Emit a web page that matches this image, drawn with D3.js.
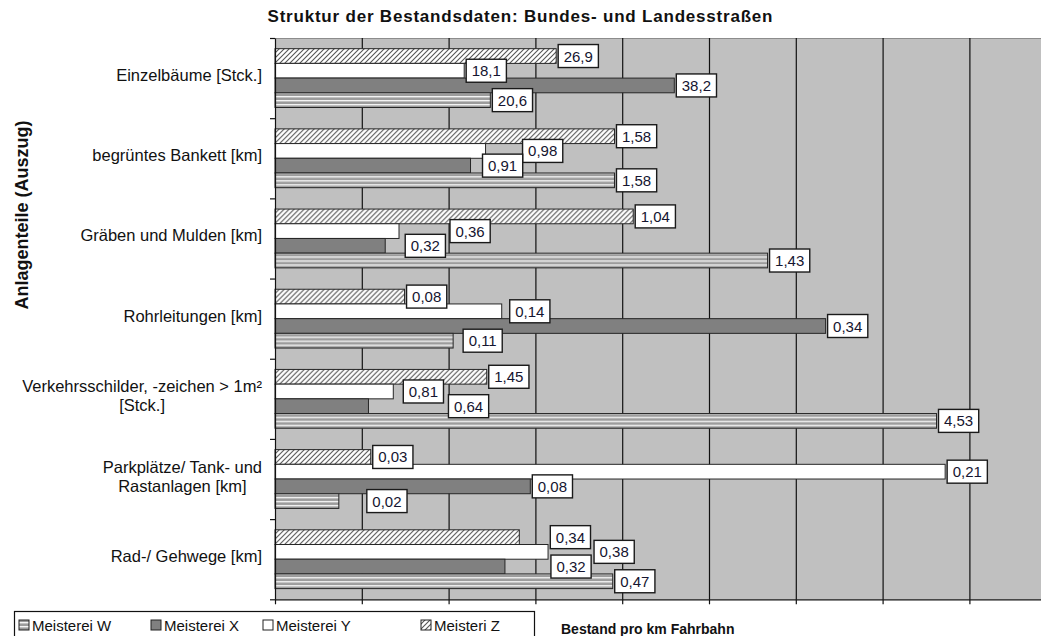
<!DOCTYPE html>
<html>
<head>
<meta charset="utf-8">
<script src="https://cdn.jsdelivr.net/npm/d3@7"></script>
<style>
  html, body { margin: 0; padding: 0; background: #fff; }
  svg { display: block; font-family: "Liberation Sans", Arial, sans-serif; }
</style>
</head>
<body>
<svg id="chart" width="1041" height="636"></svg>
<script>
// Asset categories (each entry holds the lines of the label)
const categoryLines = [
  ["Einzelbäume [Stck.]"],
  ["begrüntes Bankett [km]"],
  ["Gräben und Mulden [km]"],
  ["Rohrleitungen [km]"],
  ["Verkehrsschilder, -zeichen > 1m²", "[Stck.]"],
  ["Parkplätze/ Tank- und", "Rastanlagen [km]"],
  ["Rad-/ Gehwege [km]"]
];

// Stock per km of carriageway, one array per maintenance depot
const meistereiW = [20.6, 1.58, 1.43, 0.11, 4.53, 0.02, 0.47];
const meistereiX = [38.2, 0.91, 0.32, 0.34, 0.64, 0.08, 0.32];
const meistereiY = [18.1, 0.98, 0.36, 0.14, 0.81, 0.21, 0.38];
const meistereiZ = [26.9, 1.58, 1.04, 0.08, 1.45, 0.03, 0.34];

const seriesNames = ["Meisterei W", "Meisterei X", "Meisterei Y", "Meisteri Z"];
const labelDecimals = [1, 2, 2, 2, 2, 2, 2];

// Manual label offsets (px, beyond the default gap), order Z, Y, X, W
const labelShift = [
  [0, 0, 0, 0],
  [0, 35, 10, 0],
  [0, 49, 18, 0],
  [0, 6, 0, 8],
  [0, 8, 78, 0],
  [0, 0, 0, 26],
  [29, 44, 44, 0]
];

const svg = d3.select("#chart");
const defs = svg.append("defs");

// Fill patterns
const hatch = defs.append("pattern").attr("id", "hatchZ")
  .attr("patternUnits", "userSpaceOnUse").attr("width", 5).attr("height", 5);
hatch.append("rect").attr("width", 5).attr("height", 5).attr("fill", "#fff");
hatch.append("path").attr("d", "M-1,1 l2,-2 M0,5 l5,-5 M4,6 l2,-2")
  .attr("stroke", "#555").attr("stroke-width", 1.1);

const stripes = defs.append("pattern").attr("id", "stripesW")
  .attr("patternUnits", "userSpaceOnUse").attr("width", 8).attr("height", 4);
stripes.append("rect").attr("width", 8).attr("height", 4).attr("fill", "#9c9c9c");
stripes.append("rect").attr("y", 2).attr("width", 8).attr("height", 1.4).attr("fill", "#f4f4f4");

const seriesStyle = {
  "Meisterei W": { fill: "url(#stripesW)", values: meistereiW },
  "Meisterei X": { fill: "#808080", values: meistereiX },
  "Meisterei Y": { fill: "#ffffff", values: meistereiY },
  "Meisteri Z":  { fill: "url(#hatchZ)", values: meistereiZ }
};
// Top-to-bottom order of the bars inside one category
const barOrder = ["Meisteri Z", "Meisterei Y", "Meisterei X", "Meisterei W"];

const plot = { left: 275, top: 38, bottom: 599.3 };
const unitWidth = 1085;

// Bars show each depot's share of the category total
const catIndex = d3.range(categoryLines.length);
const totals = catIndex.map(i => d3.sum(seriesNames, s => seriesStyle[s].values[i]));

const x = d3.scaleLinear().domain([0, 0.8]).range([plot.left, plot.left + 0.8 * unitWidth]);
const y = d3.scaleBand().domain(catIndex).range([plot.top, plot.bottom]).paddingInner(0).paddingOuter(0);
const ySub = d3.scaleBand().domain(barOrder).range([0, y.bandwidth()]).paddingInner(0).paddingOuter(0.727);

const de = d3.formatLocale({ decimal: ",", thousands: ".", grouping: [3], currency: ["", " €"] });

// Plot background
svg.append("rect").attr("x", plot.left).attr("y", plot.top)
  .attr("width", 1041 - plot.left).attr("height", plot.bottom - plot.top)
  .attr("fill", "#c0c0c0");
svg.append("line").attr("x1", plot.left).attr("x2", 1041)
  .attr("y1", plot.top + 0.5).attr("y2", plot.top + 0.5)
  .attr("stroke", "#8c8c8c").attr("stroke-width", 1);

// Vertical gridlines
const gridTicks = d3.range(1, 10).map(i => +(i * 0.08).toFixed(2));
svg.append("g")
  .attr("transform", `translate(0,${plot.bottom})`)
  .call(d3.axisBottom(x).tickValues(gridTicks).tickSize(-(plot.bottom - plot.top)).tickFormat(""))
  .call(g => g.select(".domain").remove())
  .call(g => g.selectAll(".tick line").attr("stroke", "#111").attr("stroke-width", 1.2));

// Bars
const groups = svg.append("g").selectAll("g").data(catIndex).join("g")
  .attr("transform", i => `translate(0,${y(i)})`);

groups.selectAll("rect").data(i => barOrder.map(s => ({ s, i, v: seriesStyle[s].values[i], share: seriesStyle[s].values[i] / totals[i] })))
  .join("rect")
  .attr("x", x(0))
  .attr("y", d => ySub(d.s))
  .attr("width", d => x(d.share) - x(0))
  .attr("height", ySub.bandwidth())
  .attr("fill", d => seriesStyle[d.s].fill)
  .attr("stroke", "#262626").attr("stroke-width", 1);

// Bottom axis with outward ticks
svg.append("g")
  .attr("transform", `translate(0,${plot.bottom})`)
  .call(d3.axisBottom(x).tickValues([0].concat(gridTicks)).tickSize(5).tickSizeOuter(0).tickFormat(""))
  .call(g => g.select(".domain").attr("stroke", "#111").attr("stroke-width", 1.2))
  .call(g => g.selectAll(".tick line").attr("stroke", "#111").attr("stroke-width", 1.2));

// Left axis with ticks at category boundaries
const yEdge = d3.scaleLinear().domain([0, categoryLines.length]).range([plot.top, plot.bottom]);
svg.append("g")
  .attr("transform", `translate(${plot.left},0)`)
  .call(d3.axisLeft(yEdge).tickValues(d3.range(0, categoryLines.length + 1)).tickSize(5).tickSizeOuter(0).tickFormat(""))
  .call(g => g.select(".domain").attr("stroke", "#111").attr("stroke-width", 1.2))
  .call(g => g.selectAll(".tick line").attr("stroke", "#111").attr("stroke-width", 1.2));

// Value labels in boxes
const labelLayer = svg.append("g");
catIndex.forEach(i => {
  barOrder.forEach((s, k) => {
    const v = seriesStyle[s].values[i];
    const end = x(v / totals[i]);
    const cy = y(i) + ySub(s) + ySub.bandwidth() / 2;
    const lg = labelLayer.append("g");
    const txt = lg.append("text")
      .attr("font-size", 15)
      .attr("fill", "#151530")
      .attr("dominant-baseline", "central")
      .attr("y", cy)
      .text(de.format(`.${labelDecimals[i]}f`)(v));
    const w = txt.node().getComputedTextLength();
    const bx = end + 2 + labelShift[i][k];
    const bw = w + 11, bh = 23;
    lg.insert("rect", "text")
      .attr("x", bx).attr("y", cy - bh / 2)
      .attr("width", bw).attr("height", bh)
      .attr("fill", "#fff").attr("stroke", "#1a1a1a").attr("stroke-width", 1.4);
    txt.attr("x", bx + 5.5);
  });
});

// Category labels: block right-aligned, lines centred inside it
const catLabel = svg.append("g");
catIndex.forEach(i => {
  const lines = categoryLines[i];
  const cy = y(i) + y.bandwidth() / 2;
  const lh = 19;
  const g = catLabel.append("g");
  const texts = lines.map((t, j) => g.append("text")
    .attr("font-size", 16.5).attr("fill", "#111")
    .attr("dominant-baseline", "central")
    .attr("y", cy + (j - (lines.length - 1) / 2) * lh - 3)
    .text(t));
  const maxW = d3.max(texts, t => t.node().getComputedTextLength());
  const right = 262;
  texts.forEach(t => t.attr("x", right - maxW / 2).attr("text-anchor", "middle"));
});

// Titles
svg.append("text").attr("x", 520).attr("y", 22).attr("text-anchor", "middle")
  .attr("font-size", 17).attr("font-weight", "bold").attr("fill", "#111")
  .attr("textLength", 505).attr("lengthAdjust", "spacing")
  .text("Struktur der Bestandsdaten: Bundes- und Landesstraßen");

svg.append("text").attr("transform", "translate(28,215) rotate(-90)")
  .attr("text-anchor", "middle")
  .attr("font-size", 18).attr("font-weight", "bold").attr("fill", "#111")
  .text("Anlagenteile (Auszug)");

svg.append("text").attr("x", 561).attr("y", 634)
  .attr("font-size", 14).attr("font-weight", "bold").attr("fill", "#111")
  .text("Bestand pro km Fahrbahn");

// Legend
const legend = svg.append("g");
legend.append("rect").attr("x", 14.5).attr("y", 611.5).attr("width", 520).attr("height", 40)
  .attr("fill", "#fff").attr("stroke", "#111").attr("stroke-width", 1.2);
const legendX = [19, 151, 263, 421];
seriesNames.forEach((s, k) => {
  const gx = legendX[k];
  legend.append("rect").attr("x", gx).attr("y", 620).attr("width", 10).attr("height", 10)
    .attr("fill", seriesStyle[s].fill).attr("stroke", "#222").attr("stroke-width", 1);
  legend.append("text").attr("x", gx + 13).attr("y", 630.5)
    .attr("font-size", 15).attr("fill", "#111").text(s);
});
</script>
</body>
</html>
